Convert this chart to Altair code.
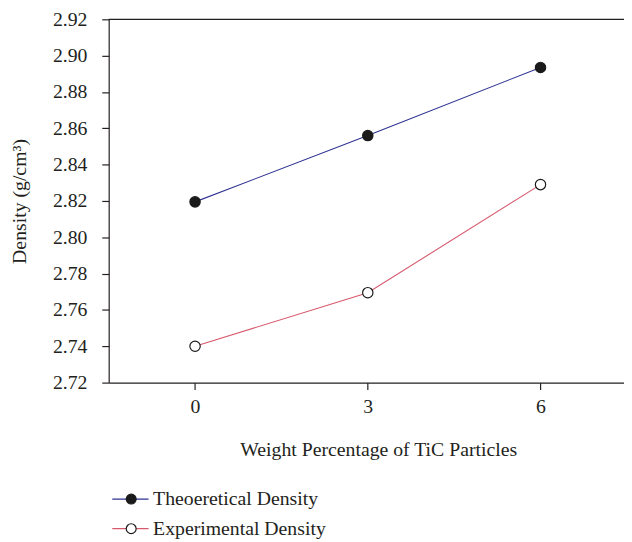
import altair as alt
import pandas as pd

weights = [0, 3, 6]
theoretical = [2.8195, 2.856, 2.8935]
experimental = [2.74, 2.7695, 2.829]
series_names = ["Theoeretical Density", "Experimental Density"]
line_colors = ["#2e3192", "#d6596d"]
point_fills = ["#1a1a1a", "#ffffff"]
y_ticks = [2.72, 2.74, 2.76, 2.78, 2.80, 2.82, 2.84, 2.86, 2.88, 2.90, 2.92]
x_ticks = [0, 3, 6]

rows = []
for w, t in zip(weights, theoretical):
    rows.append({"w": w, "d": t, "series": series_names[0], "series_f": series_names[0]})
for w, e in zip(weights, experimental):
    rows.append({"w": w, "d": e, "series": series_names[1], "series_f": series_names[1]})
df = pd.DataFrame(rows)

W, H = 522, 368
FONT = "Liberation Serif"
TXT = "#231f20"
FS = 20

x_enc = alt.X("w:Q", scale=alt.Scale(domain=[-1.5, 7.45], nice=False, zero=False),
              axis=alt.Axis(values=x_ticks, title="Weight Percentage of TiC Particles",
                            titleX=273, titleY=68, titleBaseline="middle", titleAlign="center",
                            labelPadding=7, format="d", labelOverlap=False,
                            labelFontSize=FS, titleFontSize=FS, labelFont=FONT, titleFont=FONT))
y_enc = alt.Y("d:Q", scale=alt.Scale(domain=[2.72, 2.92], nice=False, zero=False),
              axis=alt.Axis(values=y_ticks, format=".2f", title="Density (g/cm³)",
                            titleX=-90, titleY=184, titleAngle=-90, titleBaseline="middle",
                            titleAlign="center", labelPadding=15, labelOverlap=False,
                            labelFontSize=FS, titleFontSize=FS, labelFont=FONT, titleFont=FONT))

base = alt.Chart(df).encode(x=x_enc, y=y_enc)

lines = base.mark_line(strokeWidth=1.1).encode(
    stroke=alt.Stroke("series:N", scale=alt.Scale(domain=series_names, range=line_colors),
                      legend=alt.Legend(title=None, orient="none", legendX=12, legendY=476,
                                        symbolType="M-3,0L3,0", symbolSize=150,
                                        symbolStrokeWidth=1.2, labelOffset=13,
                                        rowPadding=10, labelFontSize=FS, labelFont=FONT,
                                        labelColor=TXT, padding=0, labelLimit=0)),
    detail="series:N",
)

points = base.mark_point(filled=True, size=110, stroke="#1a1a1a", strokeWidth=1.2, opacity=1).encode(
    fill=alt.Fill("series_f:N", scale=alt.Scale(domain=series_names, range=point_fills),
                  legend=alt.Legend(title=None, orient="none", legendX=12.8, legendY=476,
                                    symbolType="circle", symbolSize=100,
                                    symbolStrokeColor="#1a1a1a", symbolStrokeWidth=1.2,
                                    labelOffset=13, rowPadding=10, labelFontSize=FS,
                                    labelFont=FONT, labelOpacity=0, padding=0, labelLimit=0)),
)

top = alt.Chart(pd.DataFrame({"a": [0]})).mark_rule(color=TXT, strokeWidth=1.2).encode(
    x=alt.value(0), x2=alt.value(W), y=alt.value(0)
)

chart = alt.layer(lines, points, top).resolve_scale(stroke="independent", fill="independent").properties(
    width=W, height=H,
    autosize=alt.AutoSizeParams(type="none"),
    padding={"left": 102, "top": 8, "right": 0, "bottom": 158},
).configure_view(stroke=None).configure_axis(
    grid=False, domainColor=TXT, domainWidth=1.2, tickColor=TXT, tickWidth=1.2, tickSize=7,
    labelFont=FONT, labelFontSize=FS, labelColor=TXT,
    titleFont=FONT, titleFontSize=FS, titleColor=TXT, titleFontWeight="normal",
)

chart.save("out.html", embed_options={"renderer": "svg", "actions": False})
